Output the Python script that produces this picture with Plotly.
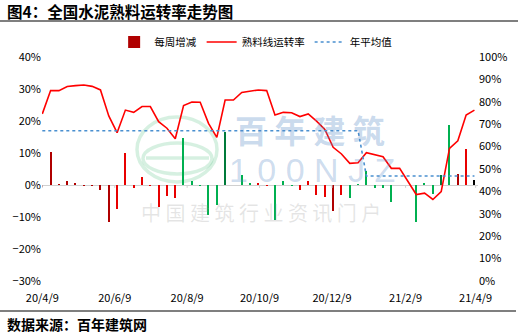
import pandas as pd
import plotly.graph_objects as go

# ---------------- data ----------------
start_date = "2020-04-09"
n_weeks = 53
# clinker line operating rate (%), weekly; None = no data (Spring Festival week)
rate = [74.6, 85.0, 85.0, 86.8, 87.2, 87.5, 86.9, 85.3, 73.7, 66.2,
        76.3, 75.3, 77.9, 77.9, 71.1, 68.2, 63.5, 78.3, 79.9, 79.8,
        70.4, 64.1, 80.8, 80.8, 84.2, 84.8, 85.3, 85.0, 74.1, 75.3,
        75.1, 73.4, 74.6, 71.4, 67.7, 59.7, 56.7, 52.5, 52.8, 57.3,
        56.5, 55.5, 50.3, 50.3, None, 38.6, 39.2, 36.4, 39.9, 59.2,
        62.6, 74.1, 76.3]
# weekly change (%)
change = [-0.4, 10.4, 0.3, 1.2, 0.5, -0.3, -0.3, -1.5, -11.6, -7.5,
          10.1, -1.0, 2.6, -0.2, -6.8, -3.4, -4.1, 14.8, 1.4, -0.3,
          -9.4, -6.3, 16.7, 0.0, 3.1, 0.5, 0.5, -0.3, -10.9, 1.2,
          -0.2, -1.7, 1.2, -3.2, -3.7, -8.0, -3.0, -4.2, 0.3, 4.5,
          -0.8, -1.0, -5.4, 0.0, None, -11.7, 0.6, -2.8, 3.1, 18.9,
          3.3, 11.2, 1.6]
# annual average (%): 2020 and 2021
avg_2020 = 67.1
avg_2021 = 46.9
weeks_2020 = 39
annual_avg = [avg_2020] * weeks_2020 + [avg_2021] * (n_weeks - weeks_2020)

tick_dates = ["2020-04-09", "2020-06-09", "2020-08-09", "2020-10-09",
              "2020-12-09", "2021-02-09", "2021-04-09"]
tick_text = ["20/4/9", "20/6/9", "20/8/9", "20/10/9", "20/12/9", "21/2/9", "21/4/9"]

dates = pd.date_range(start_date, periods=n_weeks, freq="7D")

# ---------------- styles ----------------
DR, RD, GR, DG = "#B00000", "#E80000", "#00B050", "#007A3A"
bar_colors = ([DR] * 9 + [RD] * 8 + [GR] * 5 + [DG] + [GR] * 3 + [RD] * 2 +
              [GR] * 3 + [RD] * 4 + [DR] + [RD] + [GR] * 11 + [DG] + [GR] + [DR] + [RD])

FONT = "Noto Sans CJK SC"
W, H = 518, 335
L, R, T, B = 42, 40, 57, 54
PW, PH = W - L - R, H - T - B


def px(x):
    return (x - L) / PW


def py(y):
    return (H - B - y) / PH


fig = go.Figure()
fig.add_trace(go.Bar(
    x=dates, y=change, name="每周增减",
    marker=dict(color=bar_colors, line=dict(width=0)),
    width=1.0 * 86400000, yaxis="y",
))
fig.add_trace(go.Scatter(
    x=dates, y=rate, name="熟料线运转率", mode="lines",
    line=dict(color="#FF0000", width=1.6), connectgaps=True, yaxis="y2",
))
fig.add_trace(go.Scatter(
    x=dates, y=annual_avg, name="年平均值", mode="lines",
    line=dict(color="#4A90D0", width=1.6, dash="dot"), yaxis="y2",
))

x0 = pd.Timestamp(start_date) - pd.Timedelta(hours=6)
x1 = pd.Timestamp(start_date) + pd.Timedelta(days=367)

fig.update_layout(
    width=W, height=H, autosize=False,
    margin=dict(l=L, r=R, t=T, b=B),
    paper_bgcolor="white", plot_bgcolor="white",
    font=dict(family=FONT, size=11, color="#000"),
    bargap=0,
    showlegend=True,
    legend=dict(orientation="h", x=0.49, xanchor="center", y=py(42), yanchor="middle",
                font=dict(size=10.5), itemwidth=30, tracegroupgap=0,
                bgcolor="rgba(0,0,0,0)"),
    xaxis=dict(type="date", range=[x0, x1], tickvals=tick_dates, ticktext=tick_text,
               showgrid=False, zeroline=False, showline=False, ticks="",
               ticklabelstandoff=9,
               tickfont=dict(size=11, family=FONT)),
    yaxis=dict(range=[-30, 40], dtick=10, ticksuffix="%", showgrid=False,
               zeroline=True, zerolinecolor="#D0D0D0", zerolinewidth=1,
               showline=False, tickfont=dict(size=11, family=FONT)),
    yaxis2=dict(range=[0, 100], dtick=10, ticksuffix="%", overlaying="y", side="right",
                showgrid=False, zeroline=False, showline=False,
                tickfont=dict(size=11, family=FONT)),
)

WM_GREEN = "rgba(0,160,70,0.16)"
shapes = [
    dict(type="line", xref="paper", yref="paper", x0=px(0), x1=px(518), y0=py(21), y1=py(21),
         line=dict(color="black", width=1.2)),
    dict(type="line", xref="paper", yref="paper", x0=px(0), x1=px(516), y0=py(311), y1=py(311),
         line=dict(color="black", width=1.2)),
    # watermark logo
    dict(type="circle", xref="paper", yref="paper", layer="below",
         x0=px(137), x1=px(217), y0=py(117), y1=py(182),
         line=dict(color=WM_GREEN, width=3.5)),
    dict(type="circle", xref="paper", yref="paper", layer="below",
         x0=px(143), x1=px(212), y0=py(143), y1=py(174),
         line=dict(color=WM_GREEN, width=3.5)),
    dict(type="line", xref="paper", yref="paper", layer="below",
         x0=px(146), x1=px(209), y0=py(158), y1=py(158),
         line=dict(color=WM_GREEN, width=3.5)),
]
# tick marks on the zero line
for d in tick_dates:
    shapes.append(dict(type="line", xref="x", yref="y", x0=d, x1=d, y0=0, y1=-0.9,
                       line=dict(color="#D0D0D0", width=1)))
fig.update_layout(shapes=shapes)

annotations = [
    dict(text="<b>图4：全国水泥熟料运转率走势图</b>", xref="paper", yref="paper",
         x=px(5), y=py(11), xanchor="left", yanchor="middle", showarrow=False,
         font=dict(size=15.5, family=FONT, color="black")),
    dict(text="<b>数据来源：百年建筑网</b>", xref="paper", yref="paper",
         x=px(5), y=py(324), xanchor="left", yanchor="middle", showarrow=False,
         font=dict(size=14, family=FONT, color="black")),
    dict(text="<b>百 年 建 筑</b>", xref="paper", yref="paper",
         x=px(310), y=py(129), xanchor="center", yanchor="middle", showarrow=False,
         font=dict(size=32, family=FONT, color="rgba(90,140,200,0.32)")),
    dict(text="1 0 0 N J Z", xref="paper", yref="paper",
         x=px(312), y=py(170), xanchor="center", yanchor="middle", showarrow=False,
         font=dict(size=34, family="Liberation Sans", color="rgba(90,140,200,0.30)")),
    dict(text="中 国 建 筑 行 业 资 讯 门 户", xref="paper", yref="paper",
         x=px(261), y=py(212), xanchor="center", yanchor="middle", showarrow=False,
         font=dict(size=20, family=FONT, color="rgba(150,150,150,0.25)")),
]
fig.update_layout(annotations=annotations)

fig.write_html("out.html")
